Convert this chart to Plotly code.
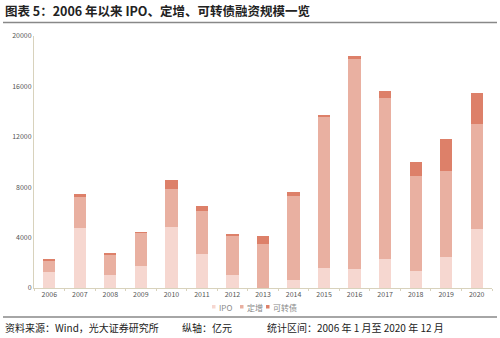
import plotly.graph_objects as go

years = [str(y) for y in range(2006, 2021)]
ipo = [1270, 4770, 1030, 1750, 4840, 2700, 1000, 0, 650, 1600, 1500, 2300, 1380, 2500, 4700]
dingzeng = [930, 2530, 1620, 2670, 3020, 3400, 3100, 3500, 6650, 12050, 16700, 12750, 7520, 6800, 8300]
kzz = [30, 140, 60, 20, 710, 400, 160, 600, 310, 100, 200, 550, 1100, 2500, 2500]
y_ticks = [0, 4000, 8000, 12000, 16000, 20000]
series_names = ["IPO", "定增", "可转债"]
colors = ["#f6d7d0", "#e9b0a1", "#dd8069"]

FONT = "Noto Sans CJK SC"
L, R, T, B = 34, 8, 36, 50
W, H = 500, 338
PW, PH = W - L - R, H - T - B

def px(x):
    return (x - L) / PW

def py(y):
    return (H - B - y) / PH

fig = go.Figure()
for name, vals, c in zip(series_names, [ipo, dingzeng, kzz], colors):
    fig.add_bar(x=years, y=vals, name=name, marker_color=c, marker_line_width=0)

fig.update_layout(
    width=W, height=H,
    margin=dict(l=L, r=R, t=T, b=B),
    barmode="stack", bargap=0.6,
    plot_bgcolor="white", paper_bgcolor="white",
    font=dict(family=FONT, size=7, color="#444"),
    showlegend=False,
    xaxis=dict(showline=True, linecolor="#d8d2bc", linewidth=1, ticks="outside",
               ticklen=2, tickcolor="#d8d2bc", tickfont=dict(size=7, color="#555"),
               showgrid=False, tickson="boundaries"),
    yaxis=dict(range=[0, 20000], tickvals=y_ticks, ticktext=[str(v) for v in y_ticks],
               showline=True, linecolor="#d8d2bc", linewidth=1, showgrid=False,
               zeroline=False, tickfont=dict(size=7, color="#555"), ticks=""),
)

# custom legend
leg_x = [212, 240, 266]
for x0, name, c in zip(leg_x, series_names, colors):
    fig.add_shape(type="rect", xref="paper", yref="paper",
                  x0=px(x0), x1=px(x0 + 3.5), y0=py(308.5), y1=py(305),
                  fillcolor=c, line=dict(width=0))
    fig.add_annotation(x=px(x0 + 4.5), y=py(307), xref="paper", yref="paper",
                       xanchor="left", yanchor="middle", showarrow=False, text=name,
                       font=dict(family=FONT, size=8, color="#888"))

fig.add_annotation(x=px(3), y=py(11), xref="paper", yref="paper", xanchor="left",
                   yanchor="middle", showarrow=False,
                   text="<b>图表 5：2006 年以来 IPO、定增、可转债融资规模一览</b>",
                   font=dict(family=FONT, size=12.5, color="#222"))
fig.add_shape(type="line", xref="paper", yref="paper", x0=px(3), x1=px(497),
              y0=py(22.5), y1=py(22.5), line=dict(color="#888", width=1.5))
fig.add_shape(type="line", xref="paper", yref="paper", x0=px(3), x1=px(497),
              y0=py(317), y1=py(317), line=dict(color="#888", width=1.5))
for x0, t in [(3, "资料来源：Wind，光大证券研究所"), (180, "纵轴：亿元"),
              (265, "统计区间：2006 年 1 月至 2020 年 12 月")]:
    fig.add_annotation(x=px(x0), y=py(328), xref="paper", yref="paper", xanchor="left",
                       yanchor="middle", showarrow=False, text=t,
                       font=dict(family=FONT, size=10, color="#222"))

fig.write_html("out.html")
